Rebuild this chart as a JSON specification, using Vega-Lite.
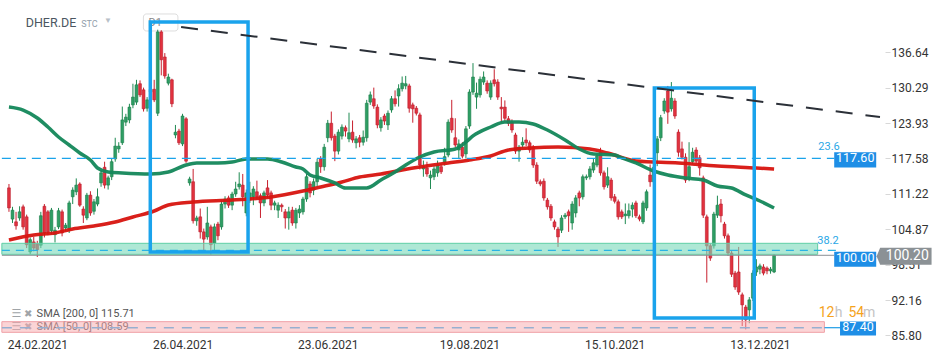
{
  "$schema": "https://vega.github.io/schema/vega-lite/v6.json",
  "width": 885,
  "height": 337,
  "autosize": {"type": "none"},
  "padding": {"left": 0, "top": 0, "right": 65, "bottom": 24},
  "background": "white",
  "config": {"view": {"stroke": null}, "font": "Roboto"},
  "datasets": {
    "candles": [
      {"i":0,"o":112.3,"h":113.0,"l":108.0,"c":108.7},{"i":1,"o":106.7,"h":108.9,"l":106.0,"c":108.3},{"i":2,"o":106.2,"h":108.0,"l":104.8,"c":105.5},{"i":3,"o":106.9,"h":109.0,"l":106.4,"c":108.0},{"i":4,"o":108.9,"h":109.3,"l":104.8,"c":105.3},{"i":5,"o":107.1,"h":107.5,"l":101.5,"c":102.1},{"i":6,"o":100.8,"h":103.4,"l":100.4,"c":103.0},{"i":7,"o":102.6,"h":103.5,"l":100.9,"c":101.5},{"i":8,"o":102.2,"h":102.8,"l":99.9,"c":101.2},{"i":9,"o":102.0,"h":108.0,"l":101.5,"c":107.3},
      {"i":10,"o":109.0,"h":109.4,"l":103.4,"c":104.2},{"i":11,"o":108.0,"h":108.3,"l":103.8,"c":104.4},{"i":12,"o":104.6,"h":108.7,"l":104.0,"c":108.3},{"i":13,"o":103.9,"h":105.3,"l":102.5,"c":104.7},{"i":14,"o":105.3,"h":108.7,"l":104.9,"c":108.2},{"i":15,"o":108.0,"h":108.4,"l":103.6,"c":104.2},{"i":16,"o":105.1,"h":106.0,"l":104.5,"c":105.6},{"i":17,"o":104.7,"h":110.0,"l":104.2,"c":109.6},{"i":18,"o":110.7,"h":112.4,"l":109.4,"c":111.9},{"i":19,"o":111.6,"h":114.0,"l":111.0,"c":112.8},
      {"i":20,"o":113.0,"h":113.3,"l":108.9,"c":109.2},{"i":21,"o":108.5,"h":109.0,"l":106.0,"c":107.4},{"i":22,"o":106.9,"h":111.4,"l":106.5,"c":111.0},{"i":23,"o":111.0,"h":111.7,"l":107.3,"c":107.8},{"i":24,"o":108.1,"h":110.3,"l":107.5,"c":109.8},{"i":25,"o":109.4,"h":112.2,"l":109.0,"c":110.7},{"i":26,"o":113.2,"h":115.5,"l":112.5,"c":115.0},{"i":27,"o":116.0,"h":117.0,"l":112.2,"c":112.8},{"i":28,"o":112.8,"h":114.5,"l":112.0,"c":114.1},{"i":29,"o":114.3,"h":117.6,"l":113.7,"c":117.0},
      {"i":30,"o":117.5,"h":121.3,"l":117.0,"c":119.8},{"i":31,"o":119.3,"h":120.5,"l":118.6,"c":119.8},{"i":32,"o":120.4,"h":126.9,"l":120.0,"c":124.5},{"i":33,"o":124.1,"h":125.6,"l":123.4,"c":125.0},{"i":34,"o":124.5,"h":127.4,"l":123.9,"c":126.8},{"i":35,"o":127.2,"h":131.0,"l":126.6,"c":128.6},{"i":36,"o":127.7,"h":131.7,"l":127.2,"c":130.8},{"i":37,"o":131.0,"h":131.6,"l":128.6,"c":129.0},{"i":38,"o":129.9,"h":130.3,"l":126.0,"c":126.5},{"i":39,"o":126.6,"h":128.6,"l":126.0,"c":128.1},
      {"i":40,"o":129.5,"h":131.0,"l":129.0,"c":130.0},{"i":41,"o":130.0,"h":131.7,"l":127.7,"c":128.1},{"i":42,"o":125.7,"h":140.7,"l":125.2,"c":140.3},{"i":43,"o":140.3,"h":140.6,"l":132.5,"c":135.3},{"i":44,"o":135.8,"h":136.5,"l":131.9,"c":132.4},{"i":45,"o":131.1,"h":132.8,"l":130.7,"c":132.2},{"i":46,"o":131.7,"h":131.9,"l":126.8,"c":127.4},{"i":47,"o":121.8,"h":123.6,"l":121.2,"c":122.3},{"i":48,"o":122.5,"h":122.9,"l":120.0,"c":120.4},{"i":49,"o":120.2,"h":125.6,"l":119.8,"c":125.2},
      {"i":50,"o":124.7,"h":125.0,"l":116.8,"c":117.1},{"i":51,"o":113.2,"h":114.3,"l":112.7,"c":113.9},{"i":52,"o":113.4,"h":115.7,"l":105.9,"c":106.4},{"i":53,"o":106.4,"h":107.3,"l":105.5,"c":106.9},{"i":54,"o":107.1,"h":108.6,"l":103.2,"c":104.4},{"i":55,"o":104.4,"h":105.0,"l":100.9,"c":103.1},{"i":56,"o":103.5,"h":108.9,"l":103.0,"c":106.0},{"i":57,"o":105.3,"h":105.7,"l":100.3,"c":102.1},{"i":58,"o":102.4,"h":105.9,"l":101.0,"c":105.3},{"i":59,"o":105.8,"h":106.2,"l":102.9,"c":103.7},
      {"i":60,"o":105.3,"h":110.0,"l":104.8,"c":109.4},{"i":61,"o":109.4,"h":110.8,"l":108.6,"c":110.3},{"i":62,"o":110.5,"h":110.9,"l":108.7,"c":109.2},{"i":63,"o":109.2,"h":111.6,"l":108.3,"c":111.2},{"i":64,"o":111.2,"h":113.4,"l":110.7,"c":112.1},{"i":65,"o":112.5,"h":115.1,"l":112.0,"c":113.0},{"i":66,"o":112.8,"h":114.8,"l":109.0,"c":110.7},{"i":67,"o":107.8,"h":112.0,"l":107.2,"c":111.4},{"i":68,"o":110.1,"h":113.4,"l":109.6,"c":111.4},{"i":69,"o":110.7,"h":112.6,"l":109.2,"c":112.1},
      {"i":70,"o":111.6,"h":113.6,"l":110.2,"c":110.7},{"i":71,"o":110.9,"h":111.3,"l":106.9,"c":109.6},{"i":72,"o":109.6,"h":111.8,"l":109.0,"c":111.4},{"i":73,"o":112.3,"h":113.7,"l":110.5,"c":111.0},{"i":74,"o":111.4,"h":111.8,"l":108.3,"c":109.2},{"i":75,"o":109.2,"h":110.0,"l":108.3,"c":109.6},{"i":76,"o":108.3,"h":109.7,"l":106.9,"c":109.2},{"i":77,"o":109.2,"h":109.5,"l":108.0,"c":108.9},{"i":78,"o":108.0,"h":108.5,"l":105.0,"c":106.9},{"i":79,"o":106.9,"h":108.9,"l":104.8,"c":108.0},
      {"i":80,"o":108.3,"h":108.9,"l":105.5,"c":106.0},{"i":81,"o":106.0,"h":108.7,"l":105.0,"c":108.3},{"i":82,"o":107.8,"h":109.2,"l":106.9,"c":108.5},{"i":83,"o":108.0,"h":110.7,"l":107.5,"c":110.3},{"i":84,"o":110.3,"h":114.8,"l":109.8,"c":114.3},{"i":85,"o":113.0,"h":113.5,"l":110.6,"c":111.4},{"i":86,"o":111.9,"h":114.0,"l":111.0,"c":113.4},{"i":87,"o":113.4,"h":117.5,"l":112.6,"c":116.9},{"i":88,"o":117.5,"h":118.0,"l":115.0,"c":116.1},{"i":89,"o":116.1,"h":120.2,"l":115.4,"c":119.6},
      {"i":90,"o":121.3,"h":124.5,"l":120.5,"c":123.9},{"i":91,"o":123.9,"h":126.0,"l":120.8,"c":121.3},{"i":92,"o":121.6,"h":122.0,"l":117.1,"c":118.9},{"i":93,"o":118.9,"h":122.8,"l":118.3,"c":122.3},{"i":94,"o":121.6,"h":123.7,"l":121.0,"c":123.2},{"i":95,"o":123.1,"h":123.5,"l":121.5,"c":122.5},{"i":96,"o":121.1,"h":125.8,"l":120.5,"c":122.2},{"i":97,"o":122.3,"h":124.4,"l":120.4,"c":120.9},{"i":98,"o":120.4,"h":121.6,"l":119.4,"c":121.1},{"i":99,"o":121.3,"h":121.8,"l":119.6,"c":120.5},
      {"i":100,"o":120.5,"h":122.6,"l":119.9,"c":121.4},{"i":101,"o":121.3,"h":128.1,"l":120.6,"c":127.5},{"i":102,"o":127.7,"h":129.6,"l":127.2,"c":129.0},{"i":103,"o":128.3,"h":130.3,"l":126.5,"c":127.0},{"i":104,"o":126.8,"h":127.3,"l":123.0,"c":123.6},{"i":105,"o":123.1,"h":125.0,"l":122.4,"c":124.5},{"i":106,"o":125.2,"h":125.6,"l":123.6,"c":124.3},{"i":107,"o":123.6,"h":126.2,"l":122.7,"c":125.7},{"i":108,"o":126.3,"h":128.8,"l":125.8,"c":128.3},{"i":109,"o":128.3,"h":129.8,"l":126.9,"c":127.4},
      {"i":110,"o":128.8,"h":130.9,"l":126.9,"c":130.1},{"i":111,"o":130.1,"h":132.3,"l":129.6,"c":131.1},{"i":112,"o":130.6,"h":132.4,"l":130.0,"c":131.0},{"i":113,"o":130.6,"h":131.0,"l":125.8,"c":126.6},{"i":114,"o":127.2,"h":127.6,"l":124.0,"c":126.5},{"i":115,"o":126.6,"h":127.0,"l":125.3,"c":125.7},{"i":116,"o":125.4,"h":125.8,"l":115.6,"c":116.4},{"i":117,"o":115.7,"h":117.2,"l":114.3,"c":116.1},{"i":118,"o":115.9,"h":117.0,"l":114.3,"c":114.8},{"i":119,"o":114.1,"h":115.4,"l":112.1,"c":114.6},
      {"i":120,"o":114.3,"h":116.2,"l":113.7,"c":115.7},{"i":121,"o":115.0,"h":117.2,"l":114.3,"c":116.4},{"i":122,"o":116.1,"h":116.6,"l":114.8,"c":115.2},{"i":123,"o":116.8,"h":119.5,"l":116.3,"c":117.9},{"i":124,"o":118.2,"h":124.6,"l":117.8,"c":124.1},{"i":125,"o":124.8,"h":128.1,"l":122.2,"c":122.7},{"i":126,"o":121.3,"h":124.8,"l":119.6,"c":120.0},{"i":127,"o":119.1,"h":121.0,"l":117.5,"c":120.2},{"i":128,"o":119.6,"h":120.5,"l":117.6,"c":118.0},{"i":129,"o":118.4,"h":123.4,"l":117.6,"c":122.9},
      {"i":130,"o":123.4,"h":130.0,"l":122.9,"c":129.5},{"i":131,"o":129.5,"h":134.7,"l":129.0,"c":132.2},{"i":132,"o":128.6,"h":131.2,"l":126.5,"c":129.3},{"i":133,"o":129.0,"h":132.3,"l":128.5,"c":131.8},{"i":134,"o":131.3,"h":133.2,"l":130.8,"c":132.2},{"i":135,"o":131.1,"h":131.6,"l":129.2,"c":129.7},{"i":136,"o":128.6,"h":131.6,"l":128.1,"c":131.1},{"i":137,"o":131.7,"h":133.6,"l":130.5,"c":131.0},{"i":138,"o":131.3,"h":131.8,"l":128.1,"c":128.6},{"i":139,"o":126.8,"h":128.6,"l":124.0,"c":126.5},
      {"i":140,"o":126.8,"h":128.0,"l":124.3,"c":124.8},{"i":141,"o":124.7,"h":125.2,"l":123.4,"c":123.9},{"i":142,"o":124.1,"h":124.6,"l":122.2,"c":122.7},{"i":143,"o":121.8,"h":122.2,"l":118.4,"c":118.9},{"i":144,"o":118.9,"h":120.0,"l":117.0,"c":119.6},{"i":145,"o":120.0,"h":121.4,"l":119.5,"c":120.5},{"i":146,"o":120.9,"h":123.0,"l":119.8,"c":120.4},{"i":147,"o":120.4,"h":120.8,"l":118.6,"c":119.1},{"i":148,"o":119.6,"h":120.0,"l":115.9,"c":116.4},{"i":149,"o":116.4,"h":116.9,"l":113.0,"c":113.5},
      {"i":150,"o":113.4,"h":113.8,"l":112.6,"c":113.0},{"i":151,"o":113.5,"h":114.0,"l":110.0,"c":110.5},{"i":152,"o":110.1,"h":110.5,"l":108.4,"c":108.9},{"i":153,"o":109.0,"h":109.4,"l":106.4,"c":106.9},{"i":154,"o":106.2,"h":106.6,"l":104.8,"c":105.3},{"i":155,"o":104.9,"h":105.3,"l":101.7,"c":103.5},{"i":156,"o":104.7,"h":107.4,"l":104.2,"c":106.9},{"i":157,"o":107.1,"h":107.8,"l":106.7,"c":107.4},{"i":158,"o":108.0,"h":108.4,"l":104.4,"c":107.3},{"i":159,"o":106.0,"h":109.9,"l":104.8,"c":109.4},
      {"i":160,"o":107.8,"h":111.0,"l":107.0,"c":110.5},{"i":161,"o":111.4,"h":111.8,"l":109.0,"c":110.5},{"i":162,"o":110.7,"h":114.7,"l":110.2,"c":114.3},{"i":163,"o":114.1,"h":114.7,"l":113.7,"c":114.3},{"i":164,"o":114.3,"h":116.2,"l":113.8,"c":115.7},{"i":165,"o":115.5,"h":117.6,"l":115.0,"c":116.8},{"i":166,"o":116.4,"h":118.5,"l":116.0,"c":118.0},{"i":167,"o":118.7,"h":119.5,"l":114.5,"c":115.0},{"i":168,"o":115.0,"h":115.4,"l":112.0,"c":112.5},{"i":169,"o":112.8,"h":116.0,"l":112.3,"c":114.3},
      {"i":170,"o":113.7,"h":114.1,"l":110.0,"c":110.5},{"i":171,"o":110.7,"h":111.2,"l":109.5,"c":109.9},{"i":172,"o":109.8,"h":110.2,"l":106.6,"c":107.1},{"i":173,"o":108.0,"h":108.4,"l":106.7,"c":107.1},{"i":174,"o":107.3,"h":109.5,"l":105.8,"c":107.6},{"i":175,"o":107.3,"h":109.5,"l":106.8,"c":108.2},{"i":176,"o":108.5,"h":109.7,"l":107.0,"c":109.2},{"i":177,"o":109.6,"h":110.0,"l":106.9,"c":107.3},{"i":178,"o":107.1,"h":107.5,"l":106.3,"c":106.7},{"i":179,"o":106.2,"h":110.0,"l":105.8,"c":109.6},
      {"i":180,"o":108.7,"h":112.0,"l":108.2,"c":111.6},{"i":181,"o":114.6,"h":116.5,"l":112.5,"c":113.4},{"i":182,"o":113.4,"h":116.5,"l":113.0,"c":116.0},{"i":183,"o":118.6,"h":121.6,"l":116.2,"c":121.1},{"i":184,"o":121.3,"h":125.4,"l":120.7,"c":124.9},{"i":185,"o":126.1,"h":128.4,"l":125.6,"c":127.9},{"i":186,"o":129.7,"h":130.6,"l":123.8,"c":125.9},{"i":187,"o":126.5,"h":131.3,"l":126.0,"c":128.4},{"i":188,"o":127.9,"h":128.4,"l":124.7,"c":125.2},{"i":189,"o":122.3,"h":122.8,"l":117.9,"c":118.7},
      {"i":190,"o":119.3,"h":120.6,"l":117.4,"c":117.8},{"i":191,"o":117.8,"h":118.5,"l":113.2,"c":113.7},{"i":192,"o":114.3,"h":120.5,"l":113.5,"c":116.1},{"i":193,"o":117.0,"h":119.5,"l":116.5,"c":118.7},{"i":194,"o":119.1,"h":119.6,"l":116.7,"c":117.1},{"i":195,"o":117.7,"h":118.2,"l":114.5,"c":115.9},{"i":196,"o":114.1,"h":114.5,"l":106.9,"c":107.4},{"i":197,"o":107.1,"h":107.5,"l":95.3,"c":101.9},{"i":198,"o":101.9,"h":102.3,"l":99.2,"c":99.7},{"i":199,"o":101.9,"h":108.0,"l":101.4,"c":107.6},
      {"i":200,"o":107.4,"h":110.9,"l":106.9,"c":109.2},{"i":201,"o":109.4,"h":110.3,"l":106.1,"c":107.3},{"i":202,"o":105.8,"h":106.2,"l":103.2,"c":103.7},{"i":203,"o":103.7,"h":104.1,"l":100.1,"c":100.6},{"i":204,"o":100.6,"h":101.0,"l":96.3,"c":96.8},{"i":205,"o":97.0,"h":97.4,"l":94.0,"c":94.5},{"i":206,"o":97.2,"h":101.7,"l":93.1,"c":93.6},{"i":207,"o":93.1,"h":93.5,"l":87.5,"c":91.3},{"i":208,"o":90.9,"h":91.3,"l":86.9,"c":88.6},{"i":209,"o":90.4,"h":92.7,"l":88.0,"c":92.2},
      {"i":210,"o":92.5,"h":97.5,"l":92.0,"c":97.0},{"i":211,"o":97.2,"h":99.5,"l":96.5,"c":98.1},{"i":212,"o":97.7,"h":98.7,"l":96.8,"c":98.3},{"i":213,"o":98.1,"h":98.6,"l":96.6,"c":97.0},{"i":214,"o":97.9,"h":98.2,"l":96.8,"c":97.4},{"i":215,"o":97.4,"h":98.1,"l":96.9,"c":97.7},{"i":216,"o":97.2,"h":100.4,"l":97.0,"c":100.2}
    ],
    "sma50": [
      {"i":0,"v":126.82},{"i":4,"v":126.28},{"i":8,"v":124.85},{"i":11,"v":123.23},{"i":14,"v":121.44},{"i":17,"v":120.0},{"i":20,"v":118.56},{"i":23,"v":117.31},{"i":25,"v":115.87},{"i":28,"v":115.15},{"i":32,"v":114.97},{"i":40,"v":114.79},{"i":45,"v":115.15},{"i":50,"v":116.41},{"i":53,"v":116.77},{"i":59,"v":116.77},{"i":63,"v":116.95},{"i":67,"v":117.49},{"i":73,"v":117.49},{"i":77,"v":116.95},{"i":81,"v":116.05},{"i":83,"v":115.69},{"i":85,"v":114.61},{"i":88,"v":114.08},{"i":92,"v":113.18},{"i":95,"v":112.28},{"i":101,"v":112.28},{"i":105,"v":113.72},{"i":109,"v":115.15},{"i":112,"v":116.41},{"i":116,"v":117.85},{"i":120,"v":118.74},{"i":126,"v":119.28},{"i":129,"v":120.54},{"i":131,"v":121.62},{"i":136,"v":123.23},{"i":140,"v":124.13},{"i":144,"v":124.13},{"i":148,"v":123.77},{"i":152,"v":122.69},{"i":157,"v":120.9},{"i":161,"v":119.28},{"i":165,"v":118.38},{"i":171,"v":118.2},{"i":173,"v":117.67},{"i":177,"v":116.77},{"i":182,"v":115.33},{"i":186,"v":114.61},{"i":191,"v":114.08},{"i":196,"v":113.72},{"i":200,"v":112.64},{"i":204,"v":112.28},{"i":208,"v":111.03},{"i":212,"v":109.95},{"i":216,"v":108.69}
    ],
    "sma200": [
      {"i":0,"v":102.95},{"i":7,"v":103.85},{"i":13,"v":104.21},{"i":18,"v":104.92},{"i":24,"v":105.46},{"i":30,"v":106.18},{"i":35,"v":107.08},{"i":41,"v":108.15},{"i":45,"v":109.23},{"i":52,"v":109.77},{"i":63,"v":110.13},{"i":74,"v":110.67},{"i":83,"v":111.74},{"i":88,"v":112.46},{"i":94,"v":113.36},{"i":99,"v":114.26},{"i":105,"v":114.79},{"i":111,"v":115.51},{"i":116,"v":116.05},{"i":124,"v":116.77},{"i":130,"v":117.31},{"i":136,"v":118.03},{"i":141,"v":119.1},{"i":147,"v":119.46},{"i":155,"v":119.64},{"i":164,"v":119.28},{"i":169,"v":118.56},{"i":177,"v":117.13},{"i":189,"v":116.77},{"i":200,"v":116.23},{"i":211,"v":115.87},{"i":216,"v":115.69}
    ]
  },
  "layer": [
    {
      "data": {"values": [{"x1": 37.96, "x2": 47.7, "y1": 143.52, "y2": 140.47}]},
      "mark": {"type": "rect", "fill": "white", "stroke": "#dddddd", "strokeWidth": 1, "cornerRadius": 3},
      "encoding": {
        "x": {"field": "x1", "type": "quantitative", "scale": {"domain": [-1.116, 245.9], "nice": false, "zero": false},
              "axis": {"values": [8, 49, 90, 130, 171, 212], "labelExpr": "datum.value < 20 ? '24.02.2021' : datum.value < 60 ? '26.04.2021' : datum.value < 100 ? '23.06.2021' : datum.value < 150 ? '19.08.2021' : datum.value < 190 ? '15.10.2021' : '13.12.2021'", "domain": false, "ticks": false, "grid": false, "labelFontSize": 12, "labelColor": "#333333", "labelPadding": 2, "title": null}},
        "x2": {"field": "x2"},
        "y": {"field": "y1", "type": "quantitative", "scale": {"domain": [85.53, 146.03], "nice": false, "zero": false},
              "axis": {"orient": "right", "values": [85.8, 92.16, 98.51, 104.87, 111.22, 117.58, 123.93, 130.29, 136.64], "format": ".2f", "domain": false, "grid": false, "tickSize": 5, "tickColor": "#d8d8d8", "labelFontSize": 12, "labelColor": "#333333", "labelPadding": 1, "title": null}},
        "y2": {"field": "y2"}
      }
    },
    {
      "data": {"values": [{"t": "D1", "x": 39.4, "y": 141.9}]},
      "mark": {"type": "text", "align": "left", "baseline": "middle", "fontSize": 11, "color": "#888888"},
      "encoding": {"x": {"field": "x", "type": "quantitative", "title": null}, "y": {"field": "y", "type": "quantitative", "title": null}, "text": {"field": "t"}}
    },
    {
      "data": {"values": [
        {"t": "DHER.DE", "x": 4.74, "y": 141.9, "s": 12.5, "w": "bold", "col": "#4b5661"},
        {"t": "STC", "x": 20.4, "y": 141.7, "s": 9, "w": "bold", "col": "#93a0ab"},
        {"t": "▼", "x": 26.8, "y": 142.2, "s": 8, "w": "normal", "col": "#b8c0c8"}
      ]},
      "mark": {"type": "text", "align": "left", "baseline": "middle"},
      "encoding": {"x": {"field": "x", "type": "quantitative", "title": null}, "y": {"field": "y", "type": "quantitative", "title": null}, "text": {"field": "t"},
        "size": {"field": "s", "type": "quantitative", "scale": null}, "fontWeight": {"field": "w", "type": "nominal", "scale": null, "legend": null},
        "color": {"field": "col", "type": "nominal", "scale": null}}
    },
    {
      "data": {"name": "candles"},
      "mark": {"type": "rule", "strokeWidth": 1},
      "encoding": {
        "x": {"field": "i", "type": "quantitative", "title": null},
        "y": {"field": "l", "type": "quantitative", "title": null},
        "y2": {"field": "h"},
        "color": {"condition": {"test": "datum.c >= datum.o", "value": "#1f8a52"}, "value": "#c8202e"}
      }
    },
    {
      "data": {"name": "candles"},
      "mark": {"type": "bar", "size": 2.8, "strokeWidth": 0.6},
      "encoding": {
        "x": {"field": "i", "type": "quantitative", "title": null},
        "y": {"field": "o", "type": "quantitative", "title": null},
        "y2": {"field": "c"},
        "fill": {"condition": {"test": "datum.c >= datum.o", "value": "#2e9e64"}, "value": "#e2323f"},
        "stroke": {"condition": {"test": "datum.c >= datum.o", "value": "#1b7d4a"}, "value": "#b91d2b"}
      }
    },
    {
      "data": {"name": "sma200"},
      "mark": {"type": "line", "color": "#d7140f", "strokeWidth": 3.5, "interpolate": "monotone", "opacity": 0.95},
      "encoding": {"x": {"field": "i", "type": "quantitative", "title": null}, "y": {"field": "v", "type": "quantitative", "title": null}}
    },
    {
      "data": {"name": "sma50"},
      "mark": {"type": "line", "color": "#13875a", "strokeWidth": 3.5, "interpolate": "monotone", "opacity": 0.95},
      "encoding": {"x": {"field": "i", "type": "quantitative", "title": null}, "y": {"field": "v", "type": "quantitative", "title": null}}
    },
    {
      "data": {"values": [
        {"t": "☰", "x": 2.1, "y": 89.67, "col": "#a0a4a8", "s": 11},
        {"t": "✖", "x": 5.44, "y": 89.67, "col": "#a0a4a8", "s": 10},
        {"t": "☰", "x": 2.1, "y": 87.33, "col": "#a0a4a8", "s": 11},
        {"t": "✖", "x": 5.44, "y": 87.33, "col": "#a0a4a8", "s": 10}
      ]},
      "mark": {"type": "text", "align": "center", "baseline": "middle", "font": "DejaVu Sans"},
      "encoding": {"x": {"field": "x", "type": "quantitative", "title": null}, "y": {"field": "y", "type": "quantitative", "title": null}, "text": {"field": "t"},
        "size": {"field": "s", "type": "quantitative", "scale": null}, "color": {"field": "col", "type": "nominal", "scale": null}}
    },
    {
      "data": {"values": [
        {"t": "SMA [200,  0] 115.71", "x": 7.81, "y": 89.67},
        {"t": "SMA [50,  0] 108.59", "x": 7.81, "y": 87.33}
      ]},
      "mark": {"type": "text", "align": "left", "baseline": "middle", "fontSize": 11, "color": "#555555"},
      "encoding": {"x": {"field": "x", "type": "quantitative", "title": null}, "y": {"field": "y", "type": "quantitative", "title": null}, "text": {"field": "t"}}
    },
    {
      "data": {"values": [
        {"x1": -2, "x2": 228.3, "lo": 100.37, "hi": 102.35, "f": "#78d9b9", "s": "#5fcfa5", "op": 0.6},
        {"x1": -2, "x2": 230.2, "lo": 86.37, "hi": 88.28, "f": "#f7a9ae", "s": "#f0a0a6", "op": 0.5}
      ]},
      "mark": {"type": "rect", "strokeWidth": 1},
      "encoding": {
        "x": {"field": "x1", "type": "quantitative", "title": null}, "x2": {"field": "x2"},
        "y": {"field": "lo", "type": "quantitative", "title": null}, "y2": {"field": "hi"},
        "fill": {"field": "f", "type": "nominal", "scale": null},
        "stroke": {"field": "s", "type": "nominal", "scale": null},
        "fillOpacity": {"field": "op", "type": "quantitative", "scale": null}
      }
    },
    {
      "data": {"values": [{"x1": -2, "x2": 233, "v": 117.6}]},
      "mark": {"type": "rule", "color": "#1aa3ea", "strokeWidth": 1.2, "strokeDash": [9, 6]},
      "encoding": {"x": {"field": "x1", "type": "quantitative", "title": null}, "x2": {"field": "x2"}, "y": {"field": "v", "type": "quantitative", "title": null}}
    },
    {
      "data": {"values": [{"x1": -2, "x2": 234.5, "v": 101.09}]},
      "mark": {"type": "rule", "color": "#29b3e4", "strokeWidth": 1.2, "strokeDash": [8, 6]},
      "encoding": {"x": {"field": "x1", "type": "quantitative", "title": null}, "x2": {"field": "x2"}, "y": {"field": "v", "type": "quantitative", "title": null}}
    },
    {
      "data": {"values": [{"x1": -2, "x2": 233, "v": 100.2}]},
      "mark": {"type": "rule", "color": "#8a8f94", "strokeWidth": 1},
      "encoding": {"x": {"field": "x1", "type": "quantitative", "title": null}, "x2": {"field": "x2"}, "y": {"field": "v", "type": "quantitative", "title": null}}
    },
    {
      "data": {"values": [{"x1": -2, "x2": 230.2, "v": 87.2}]},
      "mark": {"type": "rule", "color": "#97afd0", "strokeWidth": 1.5, "strokeDash": [10, 8]},
      "encoding": {"x": {"field": "x1", "type": "quantitative", "title": null}, "x2": {"field": "x2"}, "y": {"field": "v", "type": "quantitative", "title": null}}
    },
    {
      "data": {"values": [{"x1": 230.2, "x2": 236, "v": 87.2}]},
      "mark": {"type": "rule", "color": "#1e9de6", "strokeWidth": 1.2},
      "encoding": {"x": {"field": "x1", "type": "quantitative", "title": null}, "x2": {"field": "x2"}, "y": {"field": "v", "type": "quantitative", "title": null}}
    },
    {
      "data": {"values": [
        {"x1": 39.9, "x2": 67.5, "y1": 142.08, "y2": 100.79},
        {"x1": 182.2, "x2": 210.4, "y1": 130.23, "y2": 88.94}
      ]},
      "mark": {"type": "rect", "fillOpacity": 0, "stroke": "#1aa3ec", "strokeWidth": 3.5},
      "encoding": {"x": {"field": "x1", "type": "quantitative", "title": null}, "x2": {"field": "x2"}, "y": {"field": "y1", "type": "quantitative", "title": null}, "y2": {"field": "y2"}}
    },
    {
      "data": {"values": [{"i": 48.6, "v": 141.18}, {"i": 245.9, "v": 125.02}]},
      "mark": {"type": "line", "color": "#2b3038", "strokeWidth": 2, "strokeDash": [17, 13]},
      "encoding": {"x": {"field": "i", "type": "quantitative", "title": null}, "y": {"field": "v", "type": "quantitative", "title": null}}
    },
    {
      "data": {"values": [{"t": "23.6", "x": 231.5, "y": 119.64}, {"t": "38.2", "x": 231.2, "y": 102.77}]},
      "mark": {"type": "text", "align": "center", "baseline": "middle", "fontSize": 11, "color": "#2aa7e6"},
      "encoding": {"x": {"field": "x", "type": "quantitative", "title": null}, "y": {"field": "y", "type": "quantitative", "title": null}, "text": {"field": "t"}}
    },
    {
      "data": {"values": [{"t": "117.60", "x": 238.9, "v": 117.6}, {"t": "100.00", "x": 238.9, "v": 99.75}]},
      "mark": {"type": "point", "shape": "M-1,-0.36H1V0.36H-1Z", "size": 1764, "filled": true, "fill": "#1e8ee6", "strokeWidth": 0, "opacity": 1, "yOffset": 1.5},
      "encoding": {"x": {"field": "x", "type": "quantitative", "title": null}, "y": {"field": "v", "type": "quantitative", "title": null}}
    },
    {
      "data": {"values": [{"t": "87.40", "x": 239.7, "v": 87.4}]},
      "mark": {"type": "point", "shape": "M-1,-0.39H1V0.39H-1Z", "size": 1296, "filled": true, "fill": "#1e8ee6", "strokeWidth": 0, "opacity": 1, "yOffset": 2},
      "encoding": {"x": {"field": "x", "type": "quantitative", "title": null}, "y": {"field": "v", "type": "quantitative", "title": null}}
    },
    {
      "data": {"values": [{"t": "117.60", "x": 238.9, "v": 117.6, "dy": 1.5}, {"t": "100.00", "x": 238.9, "v": 99.75, "dy": 1.5}, {"t": "87.40", "x": 239.7, "v": 87.4, "dy": 2}]},
      "mark": {"type": "text", "align": "center", "baseline": "middle", "fontSize": 12.5, "color": "white"},
      "encoding": {"x": {"field": "x", "type": "quantitative", "title": null}, "y": {"field": "v", "type": "quantitative", "title": null}, "text": {"field": "t"},
        "yOffset": {"field": "dy", "type": "quantitative", "scale": null}}
    },
    {
      "data": {"values": [{"t": "100.20", "x": 252.7, "v": 100.2}]},
      "mark": {"type": "point", "shape": "M-1,0L-0.87,-0.31H1V0.31H-0.87Z", "size": 3025, "filled": true, "fill": "#8b9195", "strokeWidth": 0, "opacity": 1, "yOffset": 1},
      "encoding": {"x": {"field": "x", "type": "quantitative", "title": null}, "y": {"field": "v", "type": "quantitative", "title": null}}
    },
    {
      "data": {"values": [{"t": "100.20", "x": 253.6, "v": 100.2}]},
      "mark": {"type": "text", "align": "center", "baseline": "middle", "fontSize": 14, "color": "white", "yOffset": 1},
      "encoding": {"x": {"field": "x", "type": "quantitative", "title": null}, "y": {"field": "v", "type": "quantitative", "title": null}, "text": {"field": "t"}}
    },
    {
      "data": {"values": [
        {"t": "12", "x": 228.6, "col": "#f5a31c"},
        {"t": "h", "x": 233.1, "col": "#c4c4c4"},
        {"t": "54", "x": 237.0, "col": "#f5a31c"},
        {"t": "m", "x": 241.1, "col": "#c4c4c4"}
      ]},
      "mark": {"type": "text", "align": "left", "baseline": "middle", "fontSize": 14},
      "encoding": {"x": {"field": "x", "type": "quantitative", "title": null}, "y": {"datum": 89.75, "type": "quantitative"}, "text": {"field": "t"},
        "color": {"field": "col", "type": "nominal", "scale": null}}
    }
  ]
}
